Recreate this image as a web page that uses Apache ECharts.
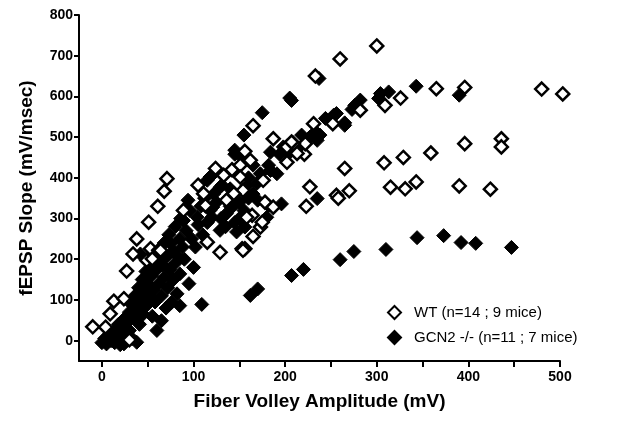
<!DOCTYPE html>
<html>
<head>
<meta charset="utf-8">
<script src="https://cdn.jsdelivr.net/npm/echarts@6/dist/echarts.min.js"></script>
<style>
html,body{margin:0;padding:0;background:#fff;}
#c{width:624px;height:426px;}
</style>
</head>
<body>
<div id="c"></div>
<script>
// WT (open diamonds)
const wtX = [300,260,233,165,187,231,252,282,309,326,365,396,480,503,
  265,308,329,359,396,436,436,
  256,270,315,331,343,390,424,227,258,223,178,187,164,173,165,156,
  202,202,221,222,209,213,207,156,162,142,151,124,133,105,71,68,176,154,144,151,111,136,89,113,158,115,153,129,154,175,
  53,62,61,51,38,34,27,13,24,-10,4,9,64,49,55,30];
const wtY = [724,692,650,528,496,533,533,566,578,596,619,622,618,606,
  423,437,450,461,484,496,476,
  357,368,377,373,390,380,372,378,350,330,340,328,308,279,256,226,
  476,438,458,484,484,460,488,465,443,420,431,423,406,382,398,367,394,369,361,402,361,345,320,332,303,242,226,217,222,291,
  226,222,330,291,250,213,171,97,103,34,33,66,222,197,201,2];

// GCN2 -/- (filled diamonds)
const koX = [237,205,207,175,155,253,244,256,265,265,276,282,273,304,313,302,343,390,
  233,238,218,227,235,235,209,184,194,216,198,204,145,145,151,165,182,191,169,129,115,118,131,140,173,184,
  235,196,180,156,182,142,147,
  162,170,207,220,260,275,310,344,373,392,408,447,109,
  0,3,5,8,10,12,14,15,17,18,20,20,22,24,25,26,28,30,30,32,33,35,36,38,38,40,41,42,44,45,46,48,48,50,52,52,54,55,56,58,58,60,60,62,63,65,65,66,68,68,70,70,72,73,74,75,76,78,78,80,80,82,82,85,85,85,86,88,89,90,92,94,95,96,98,100,102,104,105,108,110,112,115,118,120,121,122,125,129,130,136,42,
  150,155,160,158,150,140,145,135,138,160,165,170];
const koY = [644,596,590,560,505,554,546,558,535,529,578,591,568,607,611,595,625,603,
  513,505,505,500,492,509,476,463,458,472,476,460,458,468,455,431,431,410,386,377,394,402,382,373,410,418,
  349,336,303,279,332,328,267,
  111,127,160,175,199,219,224,253,258,241,239,229,89,
  -5,5,-8,10,0,15,-5,25,8,40,-10,20,35,-8,55,12,45,70,25,90,5,60,110,-4,80,130,40,100,150,65,120,170,85,140,105,190,160,60,125,200,95,25,175,140,215,49,110,185,240,155,80,205,130,260,175,238,94,220,150,280,190,209,115,164,86,250,300,230,295,200,270,345,140,320,250,180,230,303,285,330,260,350,290,320,303,328,360,340,271,300,312,213,
  300,320,350,380,340,330,290,280,350,400,360,345];

const wtName = 'WT (n=14 ; 9 mice)';
const koName = 'GCN2 -/- (n=11 ; 7 mice)';
const xLabelVals = [0,100,200,300,400,500];
const xTickVals = [0,50,100,150,200,250,300,350,400,450,500];
const yVals = [0,100,200,300,400,500,600,700,800];

const wtData = wtX.map((x,i)=>[x,wtY[i]]);
const koData = koX.map((x,i)=>[x,koY[i]]);

const chart = echarts.init(document.getElementById('c'), null, {renderer:'canvas'});
const FONT = 'Liberation Sans, Arial, sans-serif';
chart.setOption({
  backgroundColor:'#fff',
  animation:false,
  grid:{left:79, right:64, top:15, bottom:65},
  xAxis:{
    type:'value', min:-25, max:500,
    name:'Fiber Volley Amplitude (mV)', nameLocation:'middle', nameGap:31,
    nameTextStyle:{fontFamily:FONT, fontWeight:'bold', fontSize:19, color:'#000'},
    axisLine:{show:true, onZero:false, lineStyle:{color:'#000', width:2}},
    axisTick:{show:true, customValues:xTickVals, length:6, lineStyle:{color:'#000', width:2}},
    axisLabel:{customValues:xLabelVals, fontFamily:FONT, fontWeight:'bold', fontSize:14, color:'#000', margin:9},
    splitLine:{show:false}
  },
  yAxis:{
    type:'value', min:-50, max:800,
    name:'fEPSP Slope (mV/msec)', nameLocation:'middle', nameGap:43,
    nameTextStyle:{fontFamily:FONT, fontWeight:'bold', fontSize:19, color:'#000'},
    axisLine:{show:true, onZero:false, lineStyle:{color:'#000', width:2}},
    axisTick:{show:true, customValues:yVals, length:5, lineStyle:{color:'#000', width:2}},
    axisLabel:{customValues:yVals, fontFamily:FONT, fontWeight:'bold', fontSize:14, color:'#000', margin:6},
    splitLine:{show:false}
  },
  legend:{
    orient:'vertical', left:382, top:300, itemWidth:13, itemHeight:13, itemGap:10,
    data:[{name:wtName, icon:'diamond'},{name:koName, icon:'diamond'}],
    textStyle:{fontFamily:FONT, fontSize:15, color:'#000', padding:[0,0,0,8]}
  },
  series:[
    {name:koName, type:'scatter', symbol:'diamond', symbolSize:14, clip:false, data:koData,
      itemStyle:{color:'#000', borderColor:'#000', borderWidth:1, opacity:1}},
    {name:wtName, type:'scatter', symbol:'diamond', symbolSize:13, clip:false, data:wtData,
      itemStyle:{color:'#fff', borderColor:'#000', borderWidth:2.5, opacity:1}}
  ]
});
</script>
</body>
</html>
